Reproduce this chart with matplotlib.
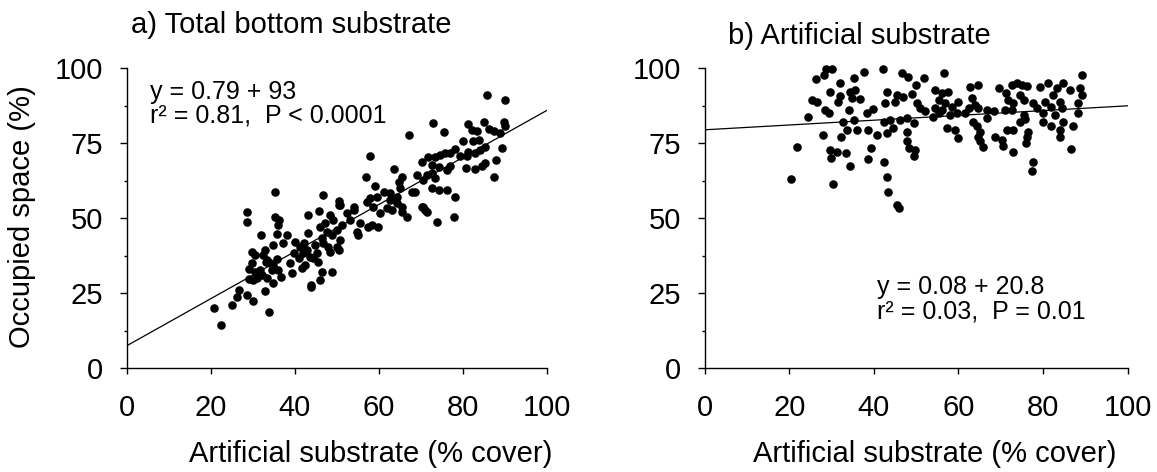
import numpy as np
import matplotlib.pyplot as plt
from matplotlib.ticker import MultipleLocator

plt.rcParams['font.family'] = ['Liberation Sans', 'DejaVu Sans']

# panel a: total bottom substrate vs artificial substrate
x_a = [28.6, 28.6, 20.8, 22.4, 25.0, 26.2, 26.8, 28.6, 30.0, 33.9, 32.8, 34.8, 36.6, 29.0, 30.0,
       31.0, 32.1, 33.3, 29.9, 30.5, 29.8, 32.5, 33.1, 31.7, 34.5, 35.7, 34.9, 32.0, 35.3, 36.3,
       36.1, 35.7, 34.9, 37.1, 38.2, 40.1, 41.3, 39.7, 38.9, 39.3, 41.9, 42.8, 43.6, 42.5, 41.7,
       44.4, 45.2, 45.6, 46.4, 48.8, 45.9, 43.8, 43.8, 43.2, 45.8, 43.2, 46.0, 46.4, 48.4, 49.2,
       50.4, 47.6, 48.8, 50.0, 51.2, 52.4, 54.0, 55.5, 54.8, 55.1, 57.5, 48.0, 50.0, 48.4, 50.4,
       57.2, 40.9, 42.1, 44.8, 46.8, 50.8, 53.2, 47.2, 33.3, 34.1, 30.5, 32.9, 29.0, 36.1,
       35.3, 46.8, 50.4, 50.8, 54.0, 57.0,
       85.7, 89.9, 72.8, 67.2, 75.4, 57.9, 81.2, 82.1, 83.4, 84.9, 86.1, 87.4, 88.9, 89.8, 90.1,
       80.1, 82.5, 83.7, 85.3, 84.1, 82.9, 81.3, 80.9, 79.4, 78.2, 77.0, 75.8, 74.6, 73.4, 71.8,
       70.2, 72.6, 74.2, 77.0, 76.2, 72.6, 73.4, 71.4, 69.0, 70.6, 80.7, 82.9, 84.5, 85.3, 89.3,
       87.9, 87.3, 67.8, 68.6, 72.6, 74.2, 76.2, 78.2, 63.6, 65.5, 64.7, 65.1, 62.7, 61.1, 59.1,
       59.5, 57.9, 62.7, 64.3, 65.5, 70.2, 71.0,
       58.7, 60.3, 61.9, 63.1, 64.3, 65.5, 66.7, 58.3, 59.9, 70.6, 71.4, 73.8, 77.9]
y_a = [52.2, 48.9, 20.0, 14.4, 21.1, 23.9, 26.1, 24.4, 22.5, 18.7, 25.8, 28.3, 30.5, 29.8, 29.4,
       30.2, 31.1, 30.0, 38.9, 37.8, 35.0, 37.8, 35.5, 32.8, 32.8, 36.3, 34.4, 44.4, 50.5, 49.4,
       47.8, 44.7, 41.1, 41.7, 44.4, 42.2, 40.5, 38.3, 35.0, 31.7, 38.3, 39.4, 37.2, 34.4, 33.3,
       36.7, 38.3, 35.5, 32.2, 32.2, 29.4, 27.8, 27.0, 51.1, 52.4, 45.0, 47.2, 43.3, 51.1, 49.4,
       54.4, 45.5, 44.4, 46.1, 47.8, 51.7, 52.8, 48.3, 45.5, 44.4, 47.2, 40.5, 40.5, 38.9, 39.4,
       55.5, 36.7, 41.7, 41.1, 41.7, 42.8, 49.4, 48.3, 36.1, 35.0, 32.2, 39.4, 33.0, 32.8,
       58.9, 57.8, 55.6, 54.5, 53.9, 63.9,
       91.1, 89.5, 81.7, 77.8, 78.7, 70.6, 81.4, 79.5, 79.2, 82.2, 79.8, 79.1, 78.4, 82.2, 80.9,
       75.8, 75.6, 76.1, 73.9, 72.8, 71.7, 72.2, 70.6, 70.6, 73.0, 71.7, 71.7, 71.1, 70.4, 70.4,
       68.9, 67.8, 67.2, 67.5, 66.1, 65.0, 63.4, 64.5, 64.5, 62.8, 66.7, 66.4, 67.5, 68.4, 73.4,
       69.5, 63.9, 58.6, 58.9, 60.0, 59.5, 59.5, 57.2, 66.4, 63.9, 62.2, 60.0, 58.4, 58.9, 60.6,
       57.2, 56.7, 56.1, 57.2, 53.9, 53.9, 52.8,
       53.9, 51.7, 53.3, 52.8, 55.0, 52.2, 50.5, 47.8, 47.2, 53.9, 52.2, 48.9, 50.3]

# panel b: artificial substrate occupied space
x_b = [28.7, 30.0, 28.3, 26.3, 35.4, 37.7, 32.0, 29.6, 25.3, 26.5, 24.5, 28.5, 29.3, 32.0, 31.6,
       34.3, 35.5, 34.8, 36.7, 34.1, 38.3, 39.9, 32.8, 35.2, 33.6, 36.1, 38.7, 40.8, 28.1, 32.2,
       21.9, 29.6, 29.8, 31.2, 33.4, 34.3, 38.7, 39.3, 20.4, 30.3,
       42.1, 46.6, 48.2, 51.9, 56.5, 49.9, 43.0, 45.4, 47.0, 49.0, 42.7, 45.0, 50.2, 50.9, 52.1,
       54.5, 56.1, 57.6, 55.3, 56.9, 54.5, 56.1, 58.4, 60.0, 58.0, 54.1, 55.3, 59.6, 61.6, 62.8,
       64.7, 63.2, 63.9, 62.4, 64.7, 66.7, 68.3, 66.7, 63.5, 64.3, 65.1, 64.7, 65.1, 65.9, 57.3,
       59.2, 60.0, 49.4, 47.8, 47.8, 48.4, 49.8, 49.4, 43.0, 44.6, 42.3, 46.2, 43.8, 47.8, 69.5,
       71.2, 72.6, 73.8, 75.0, 76.1, 71.8, 73.0, 71.0, 72.6, 74.6, 75.4, 77.7, 78.5, 75.4, 74.6,
       75.7, 80.1, 80.1, 68.7, 70.3, 70.6, 71.4, 73.0, 73.0, 76.5, 76.3, 75.9, 77.7, 77.3, 79.3,
       81.2, 83.2, 84.8, 86.3, 82.4, 80.5, 84.0, 82.0, 84.4, 82.8, 84.8, 82.0, 84.0, 84.0, 87.1,
       88.3, 88.3, 89.1, 89.1, 88.7, 86.5, 42.4, 43.0, 43.4, 45.4, 46.0]
y_b = [99.8, 99.6, 97.8, 96.4, 96.7, 98.6, 95.0, 92.0, 89.5, 88.7, 83.9, 86.1, 85.0, 90.6, 88.9,
       92.2, 92.8, 90.0, 89.7, 86.1, 85.0, 86.4, 82.2, 82.8, 79.5, 79.5, 79.5, 77.8, 77.8, 77.0,
       73.7, 72.8, 70.0, 72.2, 71.9, 67.5, 69.7, 73.4, 63.1, 61.3,
       99.8, 98.4, 97.2, 96.7, 98.4, 94.5, 92.2, 91.1, 90.4, 91.4, 88.4, 88.6, 88.4, 86.7, 85.6,
       92.8, 91.7, 92.2, 89.5, 88.4, 86.7, 86.1, 87.2, 88.6, 84.5, 83.9, 85.0, 85.0, 85.0, 93.9,
       94.5, 90.0, 87.8, 86.7, 86.7, 86.1, 85.6, 83.4, 82.2, 80.6, 78.9, 77.2, 75.6, 73.9, 80.0,
       79.5, 76.7, 81.7, 78.9, 75.6, 73.4, 72.6, 70.8, 78.4, 80.0, 82.2, 82.8, 82.8, 83.4, 93.4,
       91.9, 94.5, 95.2, 94.5, 94.1, 89.5, 88.4, 86.1, 86.1, 91.1, 89.5, 88.4, 86.7, 84.5, 82.2,
       83.0, 85.0, 82.2, 77.2, 76.1, 74.1, 79.5, 79.3, 72.2, 78.9, 77.0, 75.0, 68.9, 65.6, 93.9,
       95.0, 93.4, 95.0, 92.8, 91.1, 88.9, 88.9, 87.2, 86.7, 84.5, 82.2, 80.6, 79.5, 77.2, 80.6,
       85.0, 88.4, 91.1, 97.8, 93.4, 73.1, 68.9, 63.9, 58.9, 54.5, 53.4]

# regression lines (intercept, slope) as drawn
fit_a = (7.5, 0.785)
fit_b = (79.5, 0.08)
xticks = [0, 20, 40, 60, 80, 100]
yticks = [0, 25, 50, 75, 100]

fig = plt.figure(figsize=(11.57, 4.72), dpi=100)
ax_a = fig.add_axes([0.1095, 0.2197, 0.3633, 0.6356])
ax_b = fig.add_axes([0.609, 0.2197, 0.3656, 0.6356])

for ax, xs, ys, fit in [(ax_a, x_a, y_a, fit_a), (ax_b, x_b, y_b, fit_b)]:
    ax.scatter(xs, ys, s=38, c='k', linewidths=0, clip_on=False, zorder=3)
    lx = np.array([0, 100])
    ax.plot(lx, fit[0] + fit[1] * lx, color='k', lw=0.9, zorder=2)
    ax.set_xlim(0, 100)
    ax.set_ylim(0, 100)
    ax.set_xticks(xticks)
    ax.set_yticks(yticks)
    ax.yaxis.set_minor_locator(MultipleLocator(12.5))
    ax.spines['top'].set_visible(False)
    ax.spines['right'].set_visible(False)
    ax.spines['left'].set_linewidth(1.0)
    ax.spines['bottom'].set_linewidth(1.0)
    ax.tick_params(axis='x', which='major', direction='out', length=4.5, width=1.0,
                   pad=14, labelsize=21)
    ax.tick_params(axis='y', which='major', direction='out', length=5, width=1.0,
                   pad=12, labelsize=21)
    ax.tick_params(axis='y', which='minor', direction='out', length=2.5, width=1.0)
    ax.set_xlabel('Artificial substrate (% cover)', fontsize=21)

ax_a.xaxis.set_label_coords(0.58, -0.24)
ax_b.xaxis.set_label_coords(0.545, -0.24)

ax_a.text(5.5, 92.2, 'y = 0.79 + 93', fontsize=18, va='center')
ax_a.text(5.5, 84.4, 'r\u00b2 = 0.81,  P < 0.0001', fontsize=18, va='center')
ax_b.text(40.7, 27.2, 'y = 0.08 + 20.8', fontsize=18, va='center')
ax_b.text(40.7, 18.9, 'r\u00b2 = 0.03,  P = 0.01', fontsize=18, va='center')

fig.text(0.252, 0.947, 'a) Total bottom substrate', fontsize=21, ha='center', va='center')
fig.text(0.743, 0.924, 'b) Artificial substrate', fontsize=21, ha='center', va='center')
fig.text(0.019, 0.54, 'Occupied space (%)', fontsize=21, rotation=90, ha='center', va='center')

fig.savefig('out.png', dpi=100)
